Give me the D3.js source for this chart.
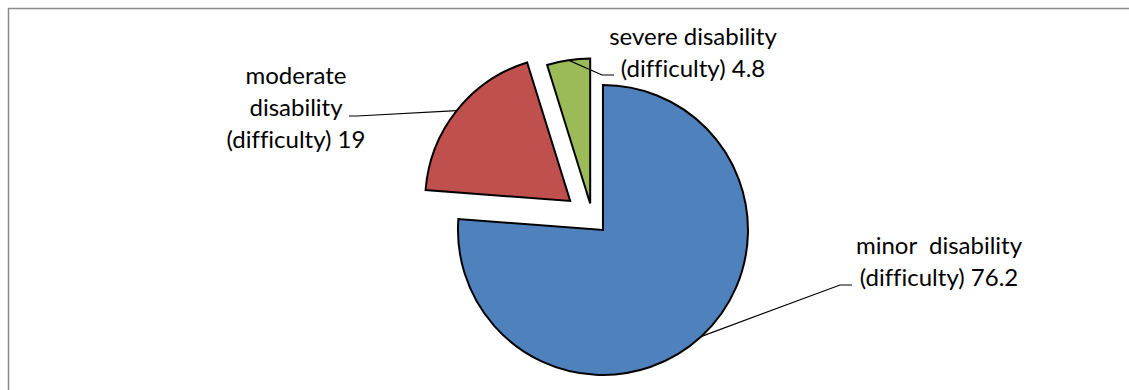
<!DOCTYPE html>
<html>
<head>
<meta charset="utf-8">
<script src="https://cdn.jsdelivr.net/npm/d3@7"></script>
<style>
  html, body { margin: 0; padding: 0; background: #fff; }
  svg { display: block; }
  text { font-family: Lato, "Liberation Sans", sans-serif; fill: #000; white-space: pre;
         font-variant-ligatures: none; font-feature-settings: "liga" 0; }
</style>
</head>
<body>
<svg id="chart" width="1129" height="390"></svg>
<script>
// Share of respondents by degree of disability (difficulty), percent
const categories = ["minor  disability (difficulty)", "moderate disability (difficulty)", "severe disability (difficulty)"];
const values = [76.2, 19, 4.8];
// How each category name is broken into label lines (the value is appended to the last line)
const labelLines = [
  ["minor  disability", "(difficulty)"],
  ["moderate", "disability", "(difficulty)"],
  ["severe disability", "(difficulty)"]
];
const colors = ["#4F81BD", "#C0504D", "#9BBB59"];

const W = 1129, H = 390;
const svg = d3.select("#chart");

// Frame lines (top and left edges of the chart area)
svg.append("line").attr("x1", 8).attr("y1", 8.5).attr("x2", W).attr("y2", 8.5)
  .attr("stroke", "#8a8a8a").attr("stroke-width", 1.5);
svg.append("line").attr("x1", 8.5).attr("y1", 8).attr("x2", 8.5).attr("y2", H)
  .attr("stroke", "#8a8a8a").attr("stroke-width", 1.5);

const cx = 592.5, cy = 218.7, R = 145;
const explode = [15.4, 28.5, 15.4];

const pie = d3.pie().sort(null).value(d => d)(values);
const arc = d3.arc().innerRadius(0).outerRadius(R);

const g = svg.append("g").attr("transform", `translate(${cx},${cy})`);

function offset(d, i) {
  const mid = (d.startAngle + d.endAngle) / 2;
  return [Math.sin(mid) * explode[i], -Math.cos(mid) * explode[i]];
}

g.selectAll("path.slice")
  .data(pie)
  .join("path")
  .attr("class", "slice")
  .attr("d", arc)
  .attr("transform", (d, i) => { const o = offset(d, i); return `translate(${o[0]},${o[1]})`; })
  .attr("fill", (d, i) => colors[i])
  .attr("stroke", "#000")
  .attr("stroke-width", 2)
  .attr("stroke-linejoin", "miter");

// Label placement: elbow of leader, end of leader, text centre and first baseline
const labelLayout = [
  { elbow: [840, 285], end: [852, 285], x: 939, y: 254 },
  { elbow: [357, 116], end: [349, 116], x: 296, y: 84 },
  { elbow: [602, 75], end: [614, 75], x: 693, y: 45 }
];
const lineGap = 32;

pie.forEach((d, i) => {
  const o = offset(d, i);
  const mid = (d.startAngle + d.endAngle) / 2;
  const sx = cx + o[0] + Math.sin(mid) * R;
  const sy = cy + o[1] - Math.cos(mid) * R;
  const L = labelLayout[i];
  svg.append("polyline")
    .attr("points", [[sx, sy], L.elbow, L.end].map(p => p.join(",")).join(" "))
    .attr("fill", "none")
    .attr("stroke", "#000")
    .attr("stroke-width", 1.2);

  const lines = labelLines[i].slice();
  lines[lines.length - 1] = lines[lines.length - 1] + " " + values[i];
  const t = svg.append("text")
    .attr("text-anchor", "middle")
    .attr("font-size", 24);
  lines.forEach((s, k) => {
    t.append("tspan").attr("x", L.x).attr("y", L.y + k * lineGap).text(s);
  });
});
</script>
</body>
</html>
